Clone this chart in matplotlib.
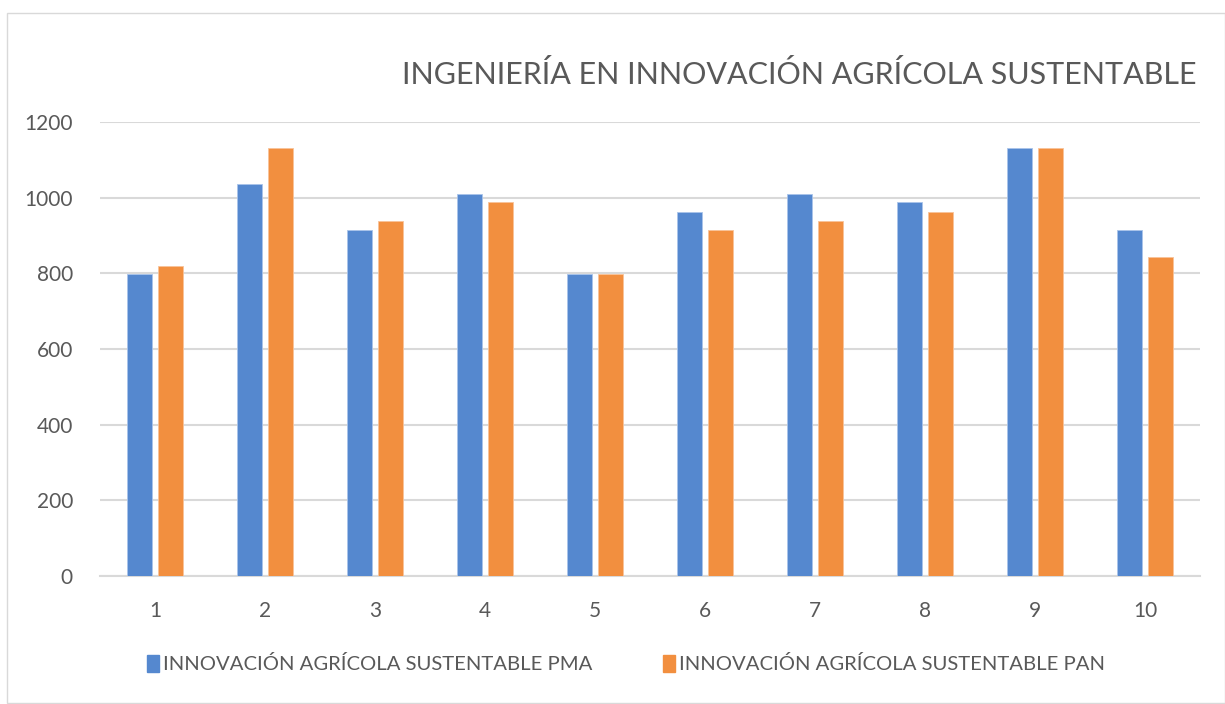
import matplotlib
matplotlib.use("Agg")
import matplotlib.pyplot as plt
from matplotlib.patches import Rectangle
import numpy as np

categories = ["1", "2", "3", "4", "5", "6", "7", "8", "9", "10"]
pma = [797, 1035, 915, 1011, 797, 962, 1011, 988, 1131, 915]
pan = [820, 1131, 939, 988, 797, 915, 939, 962, 1131, 843]
series_names = ["INNOVACIÓN AGRÍCOLA SUSTENTABLE PMA", "INNOVACIÓN AGRÍCOLA SUSTENTABLE PAN"]
title = "INGENIERÍA EN INNOVACIÓN AGRÍCOLA SUSTENTABLE"
yticks = [0, 200, 400, 600, 800, 1000, 1200]

plt.rcParams['font.family'] = ['Lato', 'DejaVu Sans']
W, H = 1225, 704
fig = plt.figure(figsize=(W / 100, H / 100), dpi=100)

# outer chart border
fig.add_artist(Rectangle((7 / W, 1 - 703 / H), 1 - 7 / W, (703 - 13) / H,
                         transform=fig.transFigure, fill=False,
                         edgecolor="#d9d9d9", linewidth=1))

ax = fig.add_axes([100 / W, 1 - 576 / H, 1100 / W, (576 - 122) / H])
x = np.arange(len(categories))
bw = 0.227
off = 0.143
blue = "#5588cf"
orange = "#f28f3f"
ax.bar(x - off, pma, bw, color=blue, edgecolor="#a9c4ea", linewidth=0.6, zorder=3)
ax.bar(x + off, pan, bw, color=orange, edgecolor="#f8c39a", linewidth=0.6, zorder=3)

ax.set_xlim(-0.5, len(categories) - 0.5)
ax.set_ylim(0, 1200)
ax.set_yticks(yticks)
ax.set_yticklabels([str(v) for v in yticks])
ax.set_xticks(x)
ax.set_xticklabels(categories)
ax.yaxis.grid(True, color="#d9d9d9", linewidth=1.5, zorder=0)
ax.set_axisbelow(True)
for s in ["top", "right", "left"]:
    ax.spines[s].set_visible(False)
ax.spines["bottom"].set_color("#d9d9d9")
ax.spines["bottom"].set_linewidth(1.5)
ax.tick_params(axis="both", length=0, labelsize=15, labelcolor="#595959")
ax.tick_params(axis="y", pad=19.5)
ax.tick_params(axis="x", pad=18)

fig.text(1197 / W, 1 - 74 / H, title, ha="right", va="center",
         fontsize=22, color="#595959")

# legend
handles = [Rectangle((0, 0), 1, 1, color=blue), Rectangle((0, 0), 1, 1, color=orange)]
leg = fig.legend(handles, series_names, loc="center", bbox_to_anchor=(626 / W, 1 - 664 / H),
                 ncol=2, frameon=False, fontsize=14.6, handlelength=0.6, handleheight=0.9,
                 handletextpad=0.2, columnspacing=3.5, labelcolor="#595959")

fig.savefig("out.png", dpi=100)
